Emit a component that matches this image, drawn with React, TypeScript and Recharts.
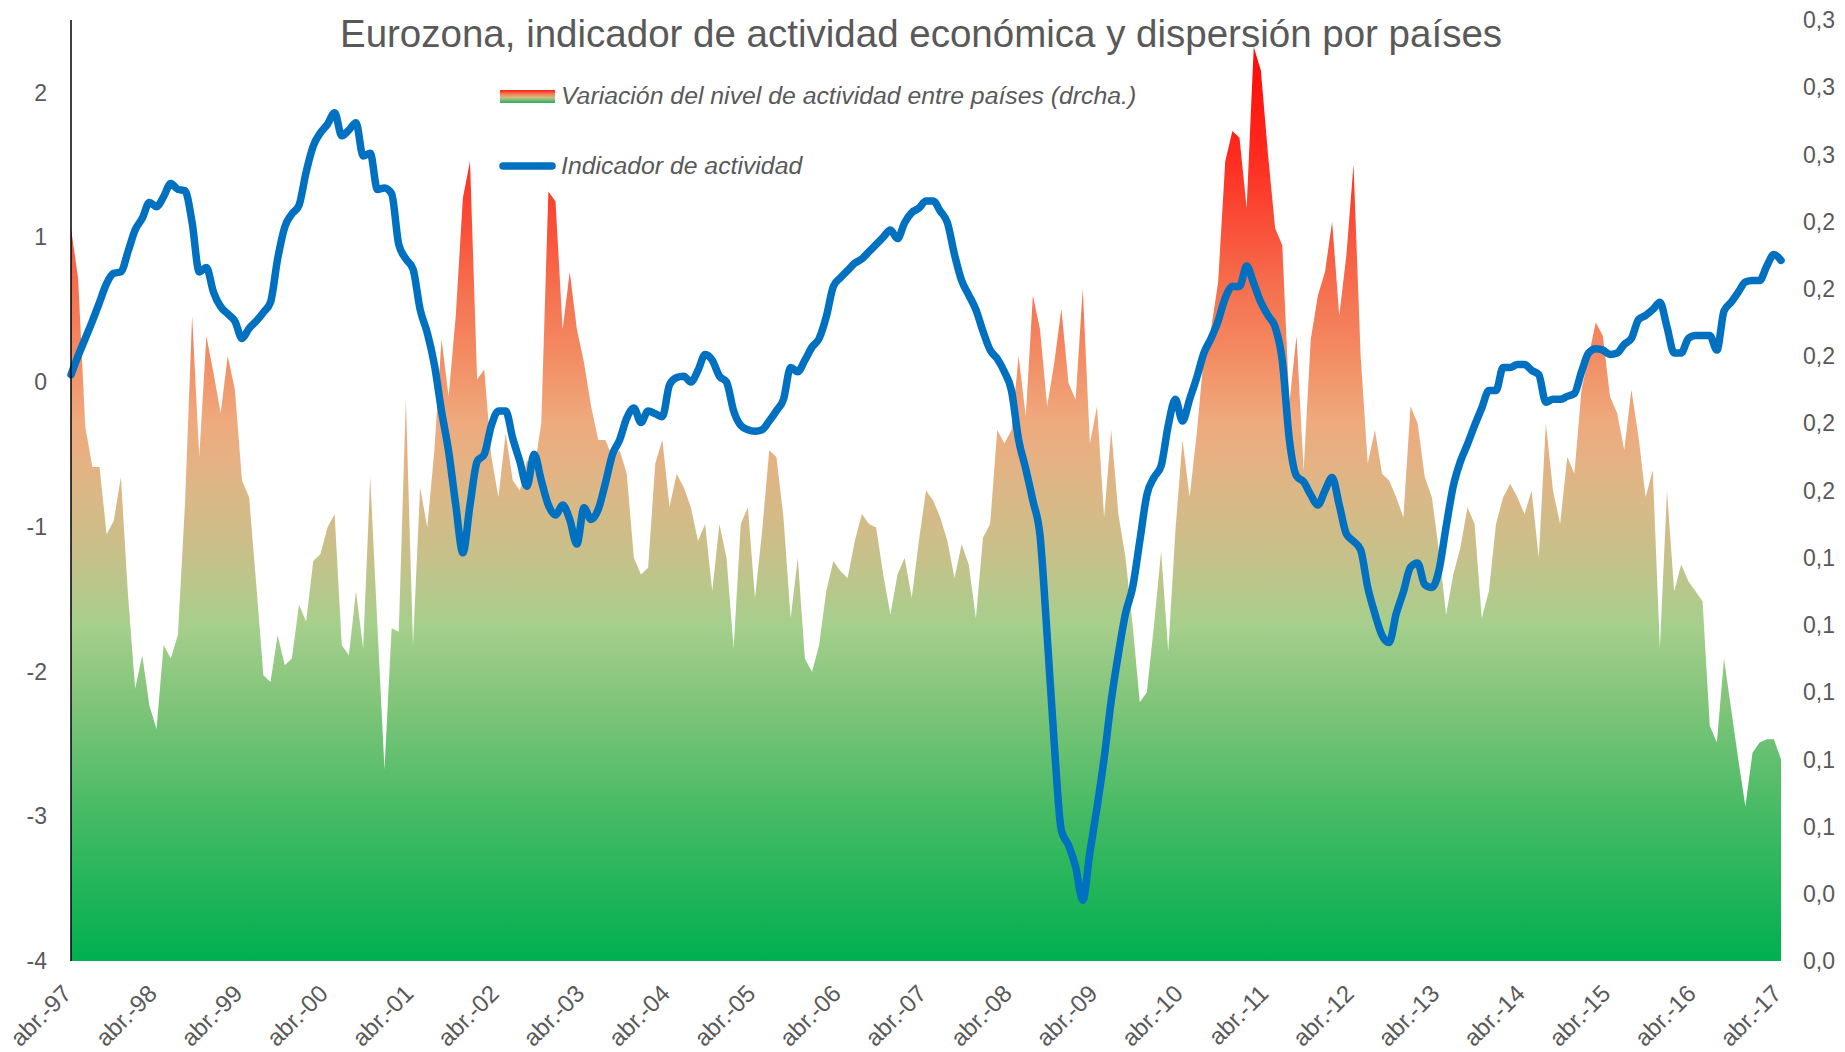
import React from 'react';
import { ComposedChart, Area, Line, XAxis, YAxis } from 'recharts';

const MONTHS = ['ene', 'feb', 'mar', 'abr', 'may', 'jun', 'jul', 'ago', 'sep', 'oct', 'nov', 'dic'];
const START_MONTH = 3; // abr
const START_YEAR = 1997;

const TITLE = 'Eurozona, indicador de actividad económica y dispersión por países';
const LEGEND_AREA = 'Variación del nivel de actividad entre países (drcha.)';
const LEGEND_LINE = 'Indicador de actividad';

const LEFT_TICKS = [-4, -3, -2, -1, 0, 1, 2];
const RIGHT_TICKS = [0.02, 0.04, 0.06, 0.08, 0.1, 0.12, 0.14, 0.16, 0.18, 0.2, 0.22, 0.24, 0.26, 0.28, 0.3];

// Indicador de actividad (eje izquierdo), mensual abr-97 .. abr-17
const ACTIVIDAD = [
  0.05, 0.18, 0.3, 0.42, 0.55, 0.68, 0.75, 0.76, 0.9, 1.05,
  1.13, 1.24, 1.21, 1.28, 1.37, 1.33, 1.32, 1.1, 0.76, 0.79,
  0.62, 0.52, 0.47, 0.42, 0.3, 0.37, 0.42, 0.48, 0.55, 0.85,
  1.07, 1.16, 1.22, 1.45, 1.63, 1.72, 1.78, 1.86, 1.7, 1.74,
  1.79, 1.56, 1.58, 1.33, 1.34, 1.3, 0.95, 0.85, 0.78, 0.5,
  0.34, 0.12, -0.2, -0.48, -0.85, -1.18, -0.85, -0.55, -0.5, -0.3,
  -0.2, -0.2, -0.39, -0.55, -0.72, -0.5, -0.68, -0.85, -0.92, -0.85,
  -0.95, -1.12, -0.87, -0.95, -0.88, -0.7, -0.5, -0.4, -0.25, -0.18,
  -0.28, -0.2, -0.22, -0.24, -0.02, 0.03, 0.04, 0.0, 0.08, 0.19,
  0.15, 0.04, 0.0, -0.2, -0.3, -0.33, -0.34, -0.33, -0.27, -0.2,
  -0.12, 0.1, 0.07, 0.15, 0.24, 0.3, 0.45, 0.66, 0.72, 0.77,
  0.82, 0.85, 0.9, 0.95, 1.0, 1.05, 0.99, 1.1, 1.17, 1.2,
  1.25, 1.25, 1.18, 1.1, 0.88, 0.7, 0.6, 0.5, 0.35, 0.22,
  0.16, 0.07, -0.06, -0.4, -0.6, -0.82, -1.06, -1.75, -2.5, -3.1,
  -3.2, -3.35, -3.58, -3.25, -2.94, -2.6, -2.2, -1.88, -1.6, -1.42,
  -1.1, -0.78, -0.66, -0.58, -0.3, -0.12, -0.27, -0.12, 0.03, 0.2,
  0.3, 0.42, 0.58, 0.66, 0.66, 0.8, 0.68, 0.55, 0.46, 0.38,
  0.15, -0.4, -0.65, -0.69, -0.78, -0.85, -0.75, -0.66, -0.85, -1.05,
  -1.1, -1.16, -1.42, -1.6, -1.75, -1.8, -1.6, -1.45, -1.28, -1.25,
  -1.4, -1.42, -1.3, -1.0, -0.72, -0.55, -0.43, -0.3, -0.18, -0.06,
  -0.06, 0.1, 0.1, 0.12, 0.12, 0.08, 0.05, -0.14, -0.12, -0.12,
  -0.1, -0.08, 0.07, 0.2, 0.23, 0.22, 0.19, 0.2, 0.26, 0.3,
  0.43, 0.46, 0.5, 0.55, 0.38, 0.2, 0.2, 0.3, 0.32, 0.32,
  0.32, 0.22, 0.49, 0.55, 0.62, 0.69, 0.7, 0.7, 0.8, 0.88,
  0.84,
];

// Variación del nivel de actividad entre países (eje derecho)
const DISPERSION = [
  0.238, 0.223, 0.179, 0.167, 0.167, 0.147, 0.151, 0.164, 0.129, 0.101,
  0.111, 0.096, 0.089, 0.114, 0.11, 0.117, 0.156, 0.212, 0.17, 0.206,
  0.195, 0.183, 0.2, 0.19, 0.163, 0.158, 0.132, 0.105, 0.103, 0.117,
  0.108, 0.11, 0.126, 0.121, 0.139, 0.141, 0.149, 0.153, 0.114, 0.111,
  0.13, 0.113, 0.164, 0.12, 0.077, 0.119, 0.118, 0.187, 0.114, 0.161,
  0.149, 0.172, 0.205, 0.188, 0.212, 0.247, 0.258, 0.193, 0.196, 0.17,
  0.158, 0.177, 0.163, 0.16, 0.169, 0.166, 0.18, 0.249, 0.246, 0.208,
  0.225, 0.208, 0.198, 0.185, 0.175, 0.175, 0.17, 0.172, 0.165, 0.14,
  0.135, 0.137, 0.168, 0.175, 0.155, 0.165, 0.161, 0.155, 0.145, 0.15,
  0.13, 0.15, 0.14, 0.113, 0.15, 0.155, 0.128, 0.148, 0.172, 0.17,
  0.152, 0.122, 0.14, 0.11, 0.106, 0.114, 0.13, 0.139, 0.136, 0.134,
  0.145, 0.153, 0.15, 0.149, 0.135, 0.123, 0.135, 0.14, 0.128, 0.145,
  0.16, 0.157, 0.152, 0.145, 0.134, 0.144, 0.138, 0.122, 0.146, 0.15,
  0.178, 0.174, 0.178, 0.2, 0.182, 0.218, 0.208, 0.185, 0.198, 0.214,
  0.192, 0.187, 0.22, 0.174, 0.185, 0.152, 0.178, 0.153, 0.14, 0.12,
  0.097, 0.1, 0.12, 0.142, 0.112, 0.148, 0.175, 0.158, 0.177, 0.2,
  0.208, 0.222, 0.258, 0.267, 0.265, 0.244, 0.292, 0.285, 0.26, 0.238,
  0.233, 0.186, 0.206, 0.166, 0.205, 0.218, 0.225, 0.24, 0.212, 0.23,
  0.257, 0.2, 0.168, 0.178, 0.165, 0.163, 0.158, 0.152, 0.185, 0.18,
  0.164, 0.158, 0.142, 0.123, 0.135, 0.143, 0.155, 0.15, 0.122, 0.13,
  0.15, 0.158, 0.162, 0.158, 0.153, 0.16, 0.14, 0.18, 0.16, 0.15,
  0.17, 0.165, 0.19, 0.2, 0.21, 0.206, 0.188, 0.183, 0.172, 0.19,
  0.176, 0.158, 0.166, 0.113, 0.16, 0.13, 0.138, 0.133, 0.13, 0.127,
  0.09, 0.085, 0.11, 0.095, 0.08, 0.066, 0.082, 0.085, 0.086, 0.086,
  0.08,
];

const CATEGORIES = ACTIVIDAD.map((_, i) => {
  const m = (START_MONTH + i) % 12;
  const y = START_YEAR + Math.floor((START_MONTH + i) / 12);
  return `${MONTHS[m]}.-${String(y % 100).padStart(2, '0')}`;
});

const data = CATEGORIES.map((c, i) => ({ fecha: c, actividad: ACTIVIDAD[i], dispersion: DISPERSION[i] }));

const FONT = '"Liberation Sans", Arial, Helvetica, sans-serif';
const GRAY = '#595959';

const GRAD_STOPS = [
  { o: 0, c: '#ff0000' },
  { o: 0.142, c: '#ff2a1e' },
  { o: 0.286, c: '#f5704f' },
  { o: 0.357, c: '#f38c63' },
  { o: 0.428, c: '#efaa7e' },
  { o: 0.5, c: '#dcb786' },
  { o: 0.572, c: '#c6c18a' },
  { o: 0.643, c: '#a6cf8c' },
  { o: 0.714, c: '#86c67c' },
  { o: 0.857, c: '#3fb962' },
  { o: 1, c: '#00b050' },
];

const XTick = (props: any) => {
  const { x, y, payload } = props;
  return (
    <g transform={`translate(${x + 2},${y + 34})`}>
      <text textAnchor="end" transform="rotate(-45)" fontSize={24} fill={GRAY} fontFamily={FONT}>
        {payload.value}
      </text>
    </g>
  );
};

const fmtRight = (v: number) => v.toFixed(1).replace('.', ',');

export default function App() {
  return (
    <div style={{ position: 'absolute', left: 0, top: 0, width: 1845, height: 1052, background: '#fff' }}>
      <ComposedChart
        width={1845}
        height={1052}
        data={data}
        margin={{ top: 20, right: 0, bottom: 0, left: 0 }}
        style={{ fontFamily: FONT }}
      >
        <defs>
          <linearGradient id="dispGrad" x1="0" y1="20" x2="0" y2="961" gradientUnits="userSpaceOnUse">
            {GRAD_STOPS.map((s) => (
              <stop key={s.o} offset={s.o} stopColor={s.c} />
            ))}
          </linearGradient>
        </defs>
        <XAxis
          dataKey="fecha"
          scale="point"
          padding={{ left: 0, right: 0 }}
          interval={11}
          height={91}
          tickLine={false}
          axisLine={false}
          tickSize={0}
          tickMargin={0}
          tick={<XTick />}
        />
        <YAxis
          yAxisId="left"
          orientation="left"
          width={71}
          domain={[-4, 2.5]}
          ticks={LEFT_TICKS}
          allowDataOverflow
          tickLine={false}
          tickSize={0}
          tickMargin={24}
          axisLine={{ stroke: '#000000', strokeWidth: 1.5 }}
          tick={{ fill: GRAY, fontSize: 23, fontFamily: FONT }}
        />
        <YAxis
          yAxisId="right"
          orientation="right"
          width={64}
          domain={[0.02, 0.3]}
          ticks={RIGHT_TICKS}
          allowDataOverflow
          tickLine={false}
          axisLine={false}
          tickSize={0}
          tickMargin={22}
          tickFormatter={fmtRight}
          tick={{ fill: GRAY, fontSize: 23, fontFamily: FONT, textAnchor: 'start' }}
        />
        <Area
          yAxisId="right"
          dataKey="dispersion"
          type="linear"
          stroke="none"
          fill="url(#dispGrad)"
          fillOpacity={1}
          isAnimationActive={false}
          dot={false}
          activeDot={false}
        />
        <Line
          yAxisId="left"
          dataKey="actividad"
          type="monotone"
          stroke="#0070c0"
          strokeWidth={7.5}
          strokeLinecap="round"
          strokeLinejoin="round"
          dot={false}
          activeDot={false}
          isAnimationActive={false}
        />
      </ComposedChart>
      <svg
        width={1845}
        height={1052}
        style={{ position: 'absolute', left: 0, top: 0, pointerEvents: 'none' }}
      >
        <defs>
          <linearGradient id="legGrad" x1="0" y1="0" x2="0" y2="1">
            <stop offset="0" stopColor="#ff1a1a" />
            <stop offset="0.35" stopColor="#f08a5a" />
            <stop offset="0.6" stopColor="#c8c088" />
            <stop offset="1" stopColor="#1fb055" />
          </linearGradient>
        </defs>
        <text x={921} y={47} textAnchor="middle" fontSize={38.5} fill={GRAY} fontFamily={FONT}>
          {TITLE}
        </text>
        <rect x={500} y={90} width={55} height={13} fill="url(#legGrad)" />
        <text x={561} y={104} fontSize={24.8} fontStyle="italic" fill={GRAY} fontFamily={FONT}>
          {LEGEND_AREA}
        </text>
        <line x1={503} y1={166} x2={552} y2={166} stroke="#0070c0" strokeWidth={7.5} strokeLinecap="round" />
        <text x={561} y={174} fontSize={24.8} fontStyle="italic" fill={GRAY} fontFamily={FONT}>
          {LEGEND_LINE}
        </text>
      </svg>
    </div>
  );
}
